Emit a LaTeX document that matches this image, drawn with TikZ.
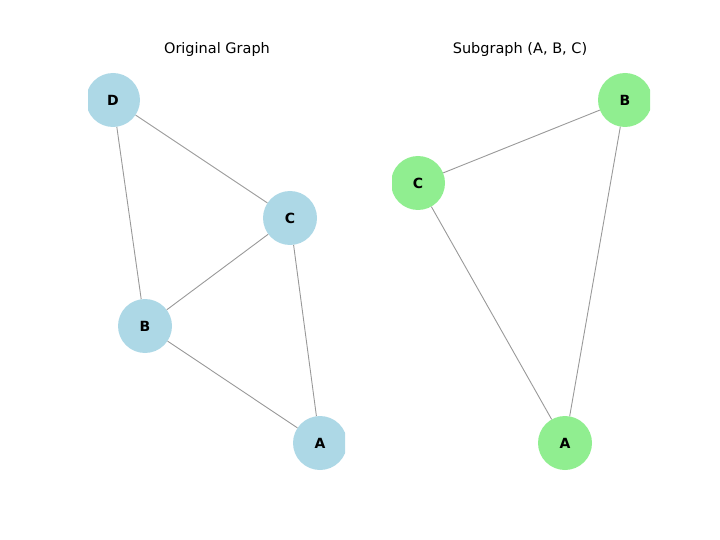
\documentclass[tikz,border=0pt]{standalone}
\usepackage{fontspec}
\setmainfont{DejaVu Sans}
\begin{document}
\begin{tikzpicture}[x=1pt, y=-1pt,
  orig/.style={circle, fill={rgb,255:red,173;green,216;blue,230}, minimum size=54pt, inner sep=0pt, font=\fontsize{14}{14}\selectfont\bfseries},
  sub/.style={circle, fill={rgb,255:red,144;green,238;blue,144}, minimum size=54pt, inner sep=0pt, font=\fontsize{14}{14}\selectfont\bfseries},
  edge/.style={draw=gray!80, line width=0.9pt},
  title/.style={font=\fontsize{14.5}{14.5}\selectfont}]

  \useasboundingbox (0,0) rectangle (720,540);

  % Titles
  \node[title] (T1) at (217,50) {Original Graph};
  \node[title] (T2) at (520,50) {Subgraph (A, B, C)};

  % Original graph
  \begin{scope}
    \clip (88,60) rectangle (345,490);
    \node[orig] (D) at (113,100) {D};
    \node[orig] (C) at (290,218) {C};
    \node[orig] (B) at (145,326) {B};
    \node[orig] (A) at (320,443) {A};
    \draw[edge] (D) -- (C);
    \draw[edge] (D) -- (B);
    \draw[edge] (C) -- (B);
    \draw[edge] (C) -- (A);
    \draw[edge] (B) -- (A);
  \end{scope}

  % Subgraph
  \begin{scope}
    \clip (392,60) rectangle (650,490);
    \node[sub] (SC) at (418,183) {C};
    \node[sub] (SB) at (625,100) {B};
    \node[sub] (SA) at (565,443) {A};
    \draw[edge] (SC) -- (SB);
    \draw[edge] (SC) -- (SA);
    \draw[edge] (SB) -- (SA);
  \end{scope}

\end{tikzpicture}
\end{document}
